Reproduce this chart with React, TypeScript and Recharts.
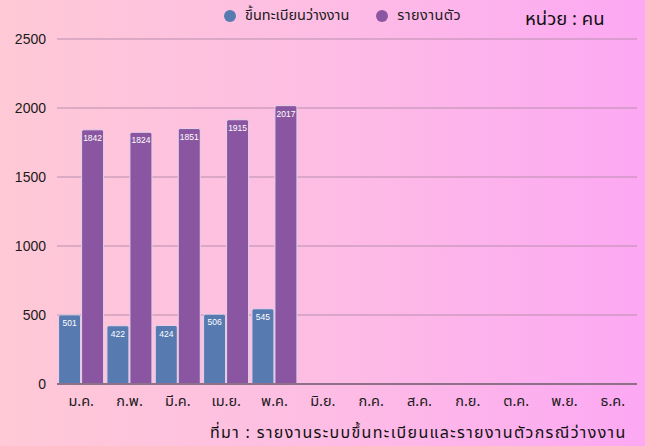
import React from "react";
import { BarChart, Bar, XAxis, YAxis, CartesianGrid, LabelList } from "recharts";

const months = ["ม.ค.", "ก.พ.", "มี.ค.", "เม.ย.", "พ.ค.", "มิ.ย.", "ก.ค.", "ส.ค.", "ก.ย.", "ต.ค.", "พ.ย.", "ธ.ค."];
const registered: (number | null)[] = [501, 422, 424, 506, 545, null, null, null, null, null, null, null];
const reported: (number | null)[] = [1842, 1824, 1851, 1915, 2017, null, null, null, null, null, null, null];
const yTicks = [0, 500, 1000, 1500, 2000, 2500];
const seriesNames = ["ขึ้นทะเบียนว่างงาน", "รายงานตัว"];
const unitText = "หน่วย : คน";
const sourceText = "ที่มา : รายงานระบบขึ้นทะเบียนและรายงานตัวกรณีว่างงาน";

const data = months.map((m, i) => ({ month: m, registered: registered[i], reported: reported[i] }));

const BLUE = "#577ab0";
const PURPLE = "#8b56a1";
const FONT = "'Noto Sans Thai', 'Noto Sans', 'DejaVu Sans', sans-serif";
const NUMFONT = "'Liberation Sans', Arial, sans-serif";

export default function App() {
  return (
    <div
      style={{
        position: "fixed",
        left: 0,
        top: 0,
        width: 645,
        height: 446,
        background: "linear-gradient(90deg, #ffc9d6 0%, #fdbde4 50%, #fca8f3 100%)",
        fontFamily: FONT,
        overflow: "hidden",
      }}
    >
      <BarChart
        width={645}
        height={446}
        data={data}
        margin={{ top: 39, right: 8, bottom: 32, left: 0 }}
        barCategoryGap={1.6}
        barGap={1}
      >
        <CartesianGrid vertical={false} stroke="#b98eae" strokeWidth={1} />
        <YAxis
          width={57}
          domain={[0, 2500]}
          ticks={yTicks}
          axisLine={false}
          tickLine={false}
          tickMargin={5}
          tick={{ fill: "#1a1a1a", fontSize: 14, fontFamily: NUMFONT }}
        />
        <XAxis
          dataKey="month"
          height={30}
          axisLine={{ stroke: "#8e7088", strokeWidth: 2 }}
          tickLine={false}
          tickMargin={6}
          tick={{ fill: "#1a1a1a", fontSize: 14.5, fontFamily: FONT }}
          interval={0}
        />
        <Bar dataKey="registered" fill={BLUE} stroke="#e6d3ea" strokeWidth={1} radius={[2, 2, 0, 0]} isAnimationActive={false}>
          <LabelList dataKey="registered" position="insideTop" fill="#ffffff" fontSize={8.5} fontFamily={NUMFONT} />
        </Bar>
        <Bar dataKey="reported" fill={PURPLE} stroke="#e6d3ea" strokeWidth={1} radius={[2, 2, 0, 0]} isAnimationActive={false}>
          <LabelList dataKey="reported" position="insideTop" fill="#ffffff" fontSize={8.5} fontFamily={NUMFONT} />
        </Bar>
      </BarChart>
      <div style={{ position: "absolute", left: 224, top: 5, display: "flex", alignItems: "center", fontSize: 14.5, color: "#1a1a1a" }}>
        <span style={{ width: 12, height: 12, borderRadius: 6, background: BLUE, display: "inline-block", marginRight: 9 }} />
        <span>{seriesNames[0]}</span>
        <span style={{ width: 12, height: 12, borderRadius: 6, background: PURPLE, display: "inline-block", marginLeft: 27, marginRight: 9 }} />
        <span style={{ letterSpacing: 0.4 }}>{seriesNames[1]}</span>
      </div>
      <div style={{ position: "absolute", left: 525, top: 5, fontSize: 18.5, color: "#111" }}>{unitText}</div>
      <div style={{ position: "absolute", left: 210, top: 421, fontSize: 16, letterSpacing: 1.35, color: "#111" }}>{sourceText}</div>
    </div>
  );
}
